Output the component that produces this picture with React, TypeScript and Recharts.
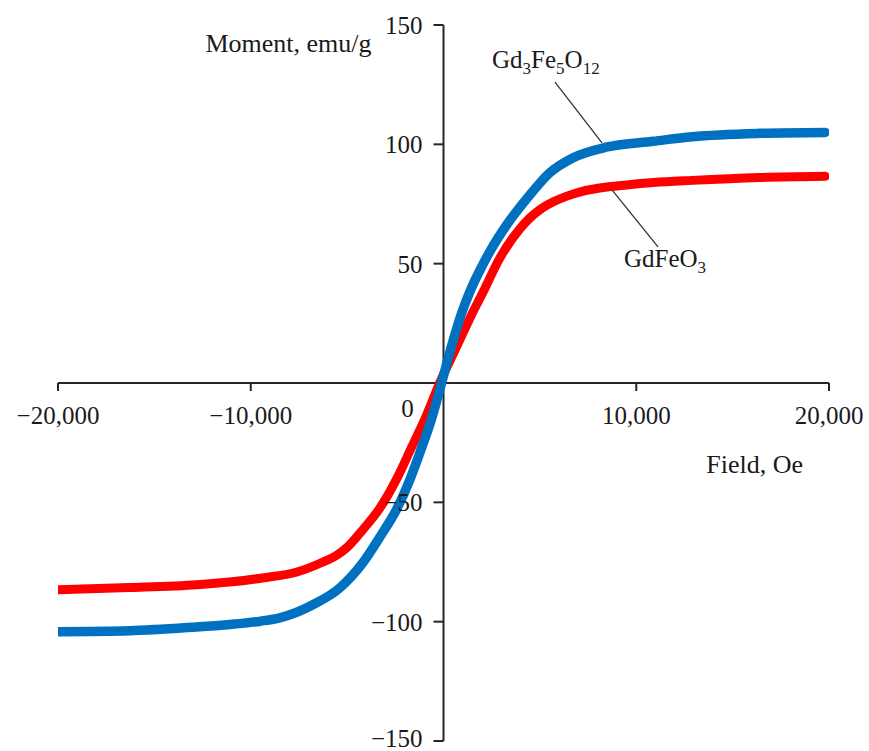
import React from 'react';
import { LineChart, Line, XAxis, YAxis, ReferenceLine, ReferenceDot } from 'recharts';

// Gd3Fe5O12 magnetisation curve (field in Oe, moment in emu/g)
const garnetField = [-20000, -16300, -12800, -11100, -9500, -8500, -6800, -5400, -4200, -3300, -2400, -1750, -1240, -620, -100, 400, 930, 1380, 2000, 2400, 3300, 4350, 5500, 6700, 8500, 10900, 12900, 16400, 19800];
const garnetMoment = [-104.2, -103.8, -102.2, -101.2, -99.8, -98.4, -93, -86, -75.5, -64.5, -52.4, -40.6, -29.5, -15, 0, 15, 29, 38.5, 49, 55, 66.5, 77.5, 88, 94.3, 98.9, 101.3, 103.2, 104.6, 105];

// GdFeO3 magnetisation curve
const perovskiteField = [-20000, -16300, -12800, -11100, -9400, -7600, -6250, -5600, -5000, -4200, -3300, -2450, -1660, -880, -200, 670, 1450, 2050, 2900, 3950, 4500, 5000, 5700, 6400, 7200, 8100, 9500, 10900, 12900, 16400, 19800];
const perovskiteMoment = [-86.6, -85.7, -84.5, -83.4, -81.7, -79.2, -75, -72.5, -68.9, -61.6, -52.4, -40.5, -27, -13.5, 0, 15, 28.5, 38, 52, 64.5, 69.3, 72.6, 75.9, 78.3, 80.3, 81.7, 83, 84, 84.9, 86.1, 86.6];

const xTicks = [-20000, -10000, 10000, 20000];
const yTicks = [150, 100, 50, -50, -100, -150];

const FONT = '"Liberation Serif", "Times New Roman", serif';
const AXIS = '#262626';
const INK = '#1a1a1a';

const garnetData = garnetField.map((f, i) => ({ field: f, m: garnetMoment[i] }));
const perovskiteData = perovskiteField.map((f, i) => ({ field: f, m: perovskiteMoment[i] }));

const fmt = (v: number) => (v < 0 ? '\u2212' : '') + Math.abs(v).toLocaleString('en-US');

const App: React.FC = () => {
  return (
    <div style={{ position: 'absolute', left: 0, top: 0, background: '#fff' }}>
      <LineChart width={869} height={751} margin={{ top: 25, right: 40, bottom: 10, left: 58 }}>
        <XAxis dataKey="field" type="number" domain={[-20000, 20000]} hide allowDataOverflow />
        <YAxis type="number" domain={[-150, 150]} hide allowDataOverflow />

        {/* axes crossing at the origin */}
        <ReferenceLine y={0} stroke={AXIS} strokeWidth={2} />
        <ReferenceLine x={0} stroke={AXIS} strokeWidth={2} />

        {yTicks.map((v) => (
          <ReferenceDot
            key={`y${v}`}
            x={0}
            y={v}
            ifOverflow="visible"
            shape={(p: any) => (
              <g>
                <line x1={p.cx - 10} y1={p.cy} x2={p.cx} y2={p.cy} stroke={AXIS} strokeWidth={2} />
                <text x={p.cx - 21} y={p.cy + (v === -150 ? 6 : 9)} textAnchor="end" fontFamily={FONT} fontSize={25} fill={INK}>
                  {fmt(v)}
                </text>
              </g>
            )}
          />
        ))}
        {xTicks.map((v) => (
          <ReferenceDot
            key={`x${v}`}
            x={v}
            y={0}
            ifOverflow="visible"
            shape={(p: any) => (
              <g>
                <line x1={p.cx} y1={p.cy} x2={p.cx} y2={p.cy + 8} stroke={AXIS} strokeWidth={2} />
                <text x={p.cx} y={p.cy + 41} textAnchor="middle" fontFamily={FONT} fontSize={25} fill={INK}>
                  {fmt(v)}
                </text>
              </g>
            )}
          />
        ))}
        <ReferenceDot
          x={0}
          y={0}
          ifOverflow="visible"
          shape={(p: any) => (
            <text x={p.cx - 36} y={p.cy + 34} textAnchor="middle" fontFamily={FONT} fontSize={25} fill={INK}>
              0
            </text>
          )}
        />

        {/* axis titles */}
        <ReferenceDot
          x={0}
          y={150}
          ifOverflow="visible"
          shape={(p: any) => (
            <text x={p.cx - 72} y={p.cy + 27} textAnchor="end" fontFamily={FONT} fontSize={26} fill={INK}>
              Moment, emu/g
            </text>
          )}
        />
        <ReferenceDot
          x={20000}
          y={0}
          ifOverflow="visible"
          shape={(p: any) => (
            <text x={p.cx - 26} y={p.cy + 90} textAnchor="end" fontFamily={FONT} fontSize={26} fill={INK}>
              Field, Oe
            </text>
          )}
        />

        <Line data={perovskiteData} dataKey="m" type="monotone" stroke="#FF0000" strokeWidth={9} strokeLinecap="round" dot={false} isAnimationActive={false} />
        <Line data={garnetData} dataKey="m" type="monotone" stroke="#0070C0" strokeWidth={9.5} strokeLinecap="round" dot={false} isAnimationActive={false} />

        {/* series labels with leader lines */}
        <ReferenceLine segment={[{ x: 5785, y: 126.1 }, { x: 8223, y: 100.6 }]} stroke="#333" strokeWidth={1.3} ifOverflow="visible" />
        <ReferenceLine segment={[{ x: 8742, y: 80.9 }, { x: 11128, y: 57 }]} stroke="#333" strokeWidth={1.3} ifOverflow="visible" />
        <ReferenceDot
          x={5785}
          y={126.1}
          ifOverflow="visible"
          shape={(p: any) => (
            <text x={p.cx - 63} y={p.cy - 14} fontFamily={FONT} fontSize={25} fill={INK}>
              <tspan>Gd</tspan>
              <tspan fontSize={17} dy={6}>3</tspan>
              <tspan dy={-6}>Fe</tspan>
              <tspan fontSize={17} dy={6}>5</tspan>
              <tspan dy={-6}>O</tspan>
              <tspan fontSize={17} dy={6}>12</tspan>
            </text>
          )}
        />
        <ReferenceDot
          x={11128}
          y={57}
          ifOverflow="visible"
          shape={(p: any) => (
            <text x={p.cx - 34} y={p.cy + 20} fontFamily={FONT} fontSize={25} fill={INK}>
              <tspan>GdFeO</tspan>
              <tspan fontSize={17} dy={6}>3</tspan>
            </text>
          )}
        />
      </LineChart>
    </div>
  );
};

export default App;
